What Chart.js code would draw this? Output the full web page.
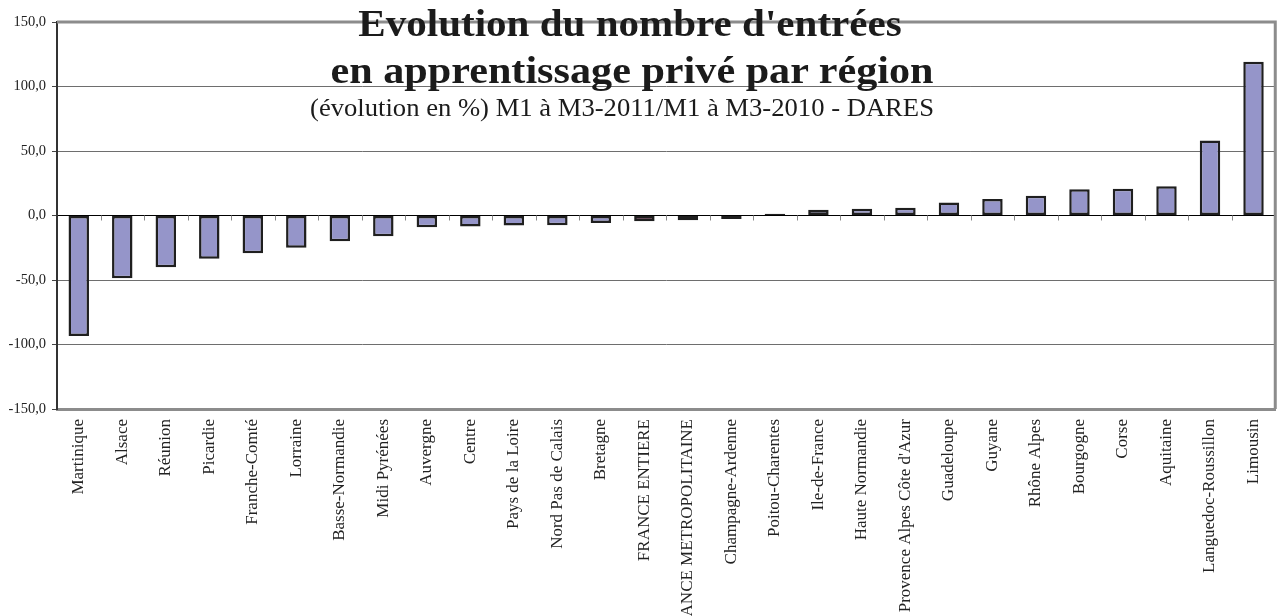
<!DOCTYPE html>
<html lang="fr">
<head>
<meta charset="utf-8">
<title>Evolution du nombre d'entrées en apprentissage privé par région</title>
<script src="https://cdn.jsdelivr.net/npm/chart.js@4.4.1/dist/chart.umd.min.js"></script>
<style>
  html, body { margin: 0; padding: 0; background: #fff; }
  #wrap { position: relative; width: 1284px; height: 616px; overflow: hidden; }
  #chart { position: absolute; left: 0; top: 0; }
  .titre {
    position: absolute;
    white-space: nowrap;
    color: #1b1b1b;
    font-family: "Liberation Serif", "Times New Roman", serif;
    line-height: 1;
    pointer-events: none;
  }
  #t1 { left: 630px; top: 5px; font-size: 37px; font-weight: bold; transform: translateX(-50%) scaleX(1.11); }
  #t2 { left: 632px; top: 52px; font-size: 37px; font-weight: bold; transform: translateX(-50%) scaleX(1.14); }
  #t3 { left: 622px; top: 95px; font-size: 25px; transform: translateX(-50%) scaleX(1.065); }
</style>
</head>
<body>
<div id="wrap">
  <canvas id="chart" width="1284" height="616"></canvas>
  <div class="titre" id="t1">Evolution du nombre d'entrées</div>
  <div class="titre" id="t2">en apprentissage privé par région</div>
  <div class="titre" id="t3">(évolution en %) M1 à M3-2011/M1 à M3-2010 - DARES</div>
</div>
<script>
// régions, triées comme dans le graphique d'origine
const regions = [
    "Martinique", "Alsace", "Réunion", "Picardie", "Franche-Comté", "Lorraine",
    "Basse-Normandie", "Midi Pyrénées", "Auvergne", "Centre", "Pays de la Loire",
    "Nord Pas de Calais", "Bretagne", "FRANCE ENTIERE", "FRANCE METROPOLITAINE",
    "Champagne-Ardenne", "Poitou-Charentes", "Ile-de-France", "Haute Normandie",
    "Provence Alpes Côte d'Azur", "Guadeloupe", "Guyane", "Rhône Alpes", "Bourgogne",
    "Corse", "Aquitaine", "Languedoc-Roussillon", "Limousin"
];

// évolution en %
const evolution = [
    -93.5, -48.6, -40.1, -33.6, -29.2, -25.0,
    -19.9, -16.0, -9.2, -8.5, -7.8,
    -7.6, -5.8, -4.4, -3.6,
    -2.7, 1.4, 4.4, 5.2,
    6.0, 10.0, 12.8, 15.3, 20.3,
    20.8, 22.7, 58.1, 119.2
];

// graduations de l'axe vertical
const yTicks = [-150, -100, -50, 0, 50, 100, 150];

const barFill = "#9595c9";
const totalFill = "#993366";
const labelFont = "'Liberation Serif', 'Times New Roman', serif";

// cadre gris en haut et à droite + petits tirets sur la ligne du zéro
const framePlugin = {
    id: "frame",
    beforeDatasetsDraw(chart) {
        const { ctx, chartArea, scales } = chart;
        ctx.save();
        ctx.strokeStyle = "#8c8c8c";
        ctx.lineWidth = 3;
        ctx.beginPath();
        ctx.moveTo(chartArea.left, chartArea.top);
        ctx.lineTo(chartArea.right, chartArea.top);
        ctx.lineTo(chartArea.right, chartArea.bottom);
        ctx.stroke();

        let y0 = scales.y.getPixelForValue(0);
        ctx.strokeStyle = "#8a8a8a";
        ctx.lineWidth = 1;
        ctx.beginPath();
        for (let i = 1; i < regions.length; i++) {
            let x = Math.round((scales.x.getPixelForValue(i - 1) + scales.x.getPixelForValue(i)) / 2) + 0.5;
            ctx.moveTo(x, y0);
            ctx.lineTo(x, y0 + 5);
        }
        ctx.stroke();
        ctx.restore();
    }
};

const ctx = document.getElementById("chart").getContext("2d");

const chart = new Chart(ctx, {
    type: "bar",
    data: {
        labels: regions,
        datasets: [{
            data: evolution,
            backgroundColor: regions.map(r => r.startsWith("FRANCE") ? totalFill : barFill),
            borderColor: "#1f1f1f",
            borderWidth: 2.5,
            borderSkipped: false,
            barPercentage: 0.47,
            categoryPercentage: 1
        }]
    },
    options: {
        responsive: false,
        animation: false,
        layout: { padding: { top: 22, right: 5, left: 0, bottom: 0 } },
        plugins: {
            legend: { display: false },
            tooltip: { enabled: false },
            title: { display: false }
        },
        scales: {
            x: {
                grid: { display: false, drawTicks: false },
                border: { display: true, color: "#8c8c8c", width: 3 },
                ticks: {
                    autoSkip: false,
                    maxRotation: 90,
                    minRotation: 90,
                    padding: 10,
                    color: "#222",
                    font: { family: labelFont, size: 17 }
                },
                afterFit: scale => { scale.height = 207; }
            },
            y: {
                min: yTicks[0],
                max: yTicks[yTicks.length - 1],
                afterBuildTicks: scale => { scale.ticks = yTicks.map(v => ({ value: v })); },
                ticks: {
                    callback: v => v.toFixed(1).replace(".", ","),
                    padding: 6,
                    color: "#222",
                    font: { family: labelFont, size: 14.5 }
                },
                grid: {
                    color: c => c.tick && c.tick.value === 0 ? "#000" : "#6e6e6e",
                    lineWidth: 1,
                    drawTicks: true,
                    tickLength: 5,
                    tickColor: "#444"
                },
                border: { display: true, color: "#333", width: 2 },
                afterFit: scale => { scale.width = 57; }
            }
        }
    },
    plugins: [framePlugin]
});
</script>
</body>
</html>
